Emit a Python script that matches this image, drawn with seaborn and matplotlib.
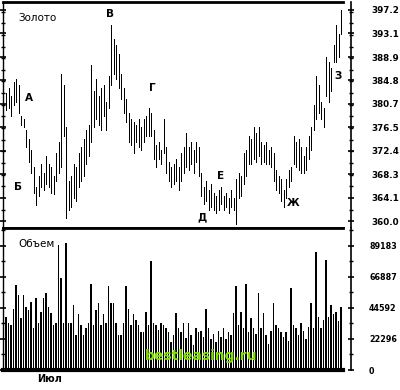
import matplotlib
matplotlib.use("Agg")
import matplotlib.pyplot as plt
from matplotlib.ticker import FixedLocator, AutoMinorLocator
from matplotlib import font_manager
import seaborn as sns
import numpy as np
import pandas as pd

# ---------------- data ----------------
highs = [382.5, 383.5, 382, 384.5, 385, 384, 378.5, 378, 376, 374.5,
         372.5, 369.5, 366, 368, 370, 368.5, 371.5, 370, 369.5, 368,
         372, 374, 386, 384, 376.5, 367, 368, 370, 369.5, 372,
         373, 374.5, 376, 377, 387.5, 383, 385, 382, 383.5, 384,
         381, 385.5, 394.5, 392, 391, 389.5, 386, 383.5, 381.5, 379,
         378, 377.5, 377, 378, 376.5, 378, 378.5, 380, 379, 376,
         373.5, 374, 372.5, 378, 373, 370.5, 369.5, 370, 371, 369.5,
         372, 373, 375.5, 373, 374, 372.5, 374, 373, 368.5, 366,
         367, 365.5, 366.5, 365, 364.5, 365.5, 366, 364.5, 365, 364,
         365.5, 364, 367.5, 368.5, 368, 372, 372.5, 375, 374.5, 376.5,
         375.5, 376.5, 374, 373.5, 374, 372.5, 373, 372, 369, 368,
         367.5, 365.5, 367.5, 369, 369.5, 375, 374, 374.5, 373, 371.5,
         373, 375, 376.5, 380.5, 385.5, 384, 381, 380, 389, 388,
         387, 391, 394.5, 393, 397.2]
lows = [379.5, 380, 378.5, 380.5, 381, 379, 377, 376.5, 373, 370.5,
        368.5, 365, 362.8, 364.5, 366, 365.5, 366.5, 366, 365, 364.8,
        367, 368.5, 369.5, 375, 360.5, 362, 362.5, 364, 363.5, 366,
        367, 368, 370, 371.5, 374, 376.5, 378, 377, 376, 378.5,
        376, 380, 384, 386, 385, 383.5, 381.5, 379, 377.5, 374,
        373.5, 372, 374, 373, 372.5, 374, 375, 375, 375, 371,
        369.5, 371, 370, 372, 368.5, 367, 366, 366.5, 367, 365.5,
        367, 368.5, 369.5, 369, 370, 368.5, 370.5, 368, 364.5, 363,
        363.5, 362, 362.5, 362, 361.5, 362, 363, 362, 362.5, 361.5,
        362.5, 362, 359.5, 364, 364.5, 366.5, 368, 370, 370, 371,
        370.5, 371.5, 370, 370.5, 370, 370, 369.5, 367, 365.5, 365,
        363.5, 362.5, 364, 366, 367, 370, 369.5, 369, 368.5, 368.5,
        369, 371, 372.5, 376, 378, 379, 378, 376.5, 382, 381,
        383, 388, 388, 389, 393]
volume_k = [38, 34, 32, 44, 61, 54, 37, 54, 45, 43,
            49, 30, 52, 34, 42, 52, 55, 45, 41, 32,
            34, 90, 66, 34, 91, 34, 34, 47, 25, 40,
            32, 25, 30, 34, 62, 32, 43, 48, 32, 40,
            34, 60, 48, 48, 34, 25, 25, 34, 60, 44,
            32, 40, 36, 32, 27, 27, 42, 32, 78, 34,
            32, 29, 34, 32, 30, 27, 20, 25, 41, 30,
            27, 34, 23, 34, 25, 18, 30, 27, 28, 24,
            44, 30, 22, 26, 20, 28, 24, 30, 22, 27,
            25, 41, 60, 32, 42, 30, 62, 27, 37, 30,
            26, 55, 30, 41, 25, 19, 28, 48, 32, 30,
            27, 24, 27, 21, 59, 32, 30, 25, 34, 28,
            22, 31, 48, 30, 85, 38, 30, 36, 79, 38,
            47, 40, 42, 35, 45]
volume = [v * 1000 for v in volume_k]

price_ticks = [360.0, 364.1, 368.3, 372.4, 376.5, 380.7, 384.8, 388.9, 393.1, 397.2]
volume_ticks = [0, 22296, 44592, 66887, 89183]
month_labels = ["Июл"]
month_bars = [17.6]

wave_labels = ["А", "Б", "В", "Г", "Д", "Е", "Ж", "З"]
wave_bars = [9.2, 4.8, 41.6, 58.4, 78.4, 86.0, 114.8, 132.8]
wave_prices = [381.7, 366.0, 396.5, 383.4, 360.7, 367.9, 363.2, 385.6]

# ---------------- figure ----------------
sns.set_style("white")
plt.rcParams['font.family'] = ['DejaVu Sans']
for key in ("text.color", "axes.labelcolor", "xtick.color", "ytick.color",
            "axes.edgecolor"):
    plt.rcParams[key] = "black"

installed = {f.name for f in font_manager.fontManager.ttflist}
narrow = [f for f in ['Liberation Sans Narrow', 'DejaVu Sans Condensed'] if f in installed] + ['DejaVu Sans']
is_narrow = narrow[0] != 'DejaVu Sans'

fig = plt.figure(figsize=(4.0, 3.9), dpi=100)
ax1 = fig.add_axes([3/400, 162/390, 348/400, 226/390])
ax2 = fig.add_axes([3/400, 20/390, 348/400, 142/390])

n = len(highs)
idx = np.arange(n)
df = pd.DataFrame({"bar": idx, "high": highs, "low": lows, "volume": volume})

# price bars
ax1.vlines(df["bar"], df["low"], df["high"], color="black", linewidth=0.72,
           antialiased=False)
ax1.set_ylim(358.8, 398.6)

# volume bars
sns.barplot(data=df, x="bar", y="volume", ax=ax2, color="black",
            width=0.42, saturation=1, native_scale=True, linewidth=0)
for p in ax2.patches:
    p.set_antialiased(False)
ax2.set_ylim(0, 102000)

xmin, xmax = -1.2, 138.0
for ax in (ax1, ax2):
    ax.set_xlim(xmin, xmax)
    ax.set_facecolor("white")
    ax.set_xlabel("")
    ax.set_ylabel("")
    for s in ax.spines.values():
        s.set_color("black")
        s.set_visible(True)
    ax.spines["left"].set_linewidth(1.0)
    ax.spines["right"].set_linewidth(1.2)
    ax.spines["top"].set_bounds(xmin, 134.8)
    ax.spines["bottom"].set_bounds(xmin, 134.8)
    ax.yaxis.set_minor_locator(AutoMinorLocator(2))
    ax.tick_params(axis="y", which="both", left=True, right=True,
                   labelleft=False, labelright=True, direction="inout",
                   color="black", labelcolor="black")
    ax.tick_params(axis="y", which="major", length=4, width=1.2)
    ax.tick_params(axis="y", which="minor", length=3, width=1.0)

ax1.tick_params(axis="y", which="major", pad=13)
ax2.tick_params(axis="y", which="major", pad=11)

ax1.spines["top"].set_linewidth(2.0)
ax1.spines["bottom"].set_linewidth(2.0)
ax2.spines["top"].set_linewidth(2.0)
ax2.spines["bottom"].set_linewidth(3.0)

ax1.yaxis.set_major_locator(FixedLocator(price_ticks))
ax1.set_yticklabels([f"{t:.1f}" for t in price_ticks])
ax1.set_xticks([])

ax2.yaxis.set_major_locator(FixedLocator(volume_ticks))
ax2.set_yticklabels([str(t) for t in volume_ticks])
ax2.set_xticks(month_bars)
ax2.set_xticklabels(month_labels)
ax2.tick_params(axis="x", length=0, pad=3, labelcolor="black")

for lab in ax1.get_yticklabels():
    lab.set_family(narrow)
    lab.set_fontweight("bold")
    lab.set_fontsize(7.5 if is_narrow else 6.3)
for lab in ax2.get_yticklabels():
    lab.set_family(narrow)
    lab.set_fontweight("bold")
    lab.set_fontsize(7.5 if is_narrow else 5.8)
for lab in ax2.get_xticklabels():
    lab.set_family(narrow)
    lab.set_fontweight("bold")
    lab.set_fontsize(8 if is_narrow else 7)

# panel titles
ax1.text(15/348, 1 - 16/226, "Золото", transform=ax1.transAxes,
         fontsize=7.5, va="center", ha="left", color="black")
ax2.text(15/348, 1 - 16/142, "Объем", transform=ax2.transAxes,
         fontsize=7.5, va="center", ha="left", color="black")

# wave letters
for lab, xb, yp in zip(wave_labels, wave_bars, wave_prices):
    ax1.text(xb, yp, lab, fontsize=7.5, fontweight="bold",
             ha="center", va="center", color="black")

# watermark
ax2.text(0.57, 0.1, "bestleasing.ru", transform=ax2.transAxes,
         color="#7ee000", fontsize=10, fontweight="bold",
         ha="center", va="center")

fig.savefig("out.png", dpi=100, facecolor="white")
